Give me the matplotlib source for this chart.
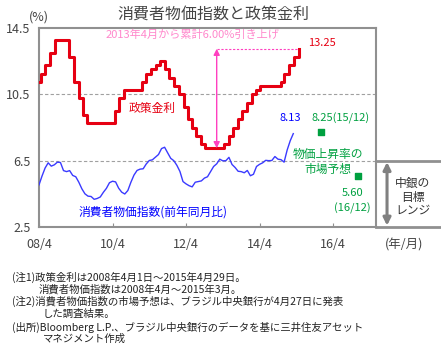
import matplotlib
matplotlib.use('Agg')
import matplotlib.pyplot as plt
import numpy as np
import pandas as pd

plt.rcParams['font.family'] = ['Noto Sans CJK JP', 'DejaVu Sans']

# 政策金利 (変更日, %)
selic_dates = ['2008-04-01', '2008-04-16', '2008-06-04', '2008-07-23', '2008-09-10',
               '2009-01-21', '2009-03-11', '2009-04-29', '2009-06-10', '2009-07-22',
               '2010-04-28', '2010-06-09', '2010-07-21', '2011-01-19', '2011-03-02',
               '2011-04-20', '2011-06-08', '2011-07-20', '2011-08-31', '2011-10-19',
               '2011-11-30', '2012-01-18', '2012-03-07', '2012-04-18', '2012-05-30',
               '2012-07-11', '2012-08-29', '2012-10-10', '2013-04-17', '2013-05-29',
               '2013-07-10', '2013-08-28', '2013-10-09', '2013-11-27', '2014-01-15',
               '2014-02-26', '2014-04-02', '2014-10-29', '2014-12-03', '2015-01-21',
               '2015-03-04', '2015-04-29']
selic = [11.25, 11.75, 12.25, 13.00, 13.75, 12.75, 11.25, 10.25, 9.25, 8.75,
         9.50, 10.25, 10.75, 11.25, 11.75, 12.00, 12.25, 12.50, 12.00, 11.50,
         11.00, 10.50, 9.75, 9.00, 8.50, 8.00, 7.50, 7.25, 7.50, 8.00,
         8.50, 9.00, 9.50, 10.00, 10.50, 10.75, 11.00, 11.25, 11.75, 12.25,
         12.75, 13.25]

# 消費者物価指数 前年同月比 2008/4 - 2015/3
cpi = [5.04, 5.58, 6.06, 6.37, 6.17, 6.25, 6.41, 6.39, 5.90,
       5.84, 5.90, 5.61, 5.53, 5.20, 4.80, 4.50, 4.36, 4.34, 4.17, 4.22, 4.31,
       4.59, 4.83, 5.17, 5.26, 5.22, 4.84, 4.60, 4.49, 4.70, 5.20, 5.63, 5.91,
       5.99, 6.01, 6.30, 6.51, 6.55, 6.71, 6.87, 7.23, 7.31, 6.97, 6.64, 6.50,
       6.22, 5.85, 5.24, 5.10, 4.99, 4.92, 5.20, 5.24, 5.28, 5.45, 5.53, 5.84,
       6.15, 6.31, 6.59, 6.49, 6.50, 6.70, 6.27, 6.09, 5.86, 5.84, 5.77, 5.91,
       5.59, 5.68, 6.15, 6.28, 6.37, 6.52, 6.50, 6.51, 6.75, 6.59, 6.56, 6.41,
       7.14, 7.70, 8.13]

# 市場予想
fc_months = ['2015-12', '2016-12']
fc_values = [8.25, 5.60]

xtick_labels = ['08/4', '10/4', '12/4', '14/4', '16/4']


def to_month(s):
    d = pd.Timestamp(s)
    return (d.year - 2008) * 12 + (d.month - 4) + (d.day - 1) / d.days_in_month


selic_x = [to_month(s) for s in selic_dates]
cpi_x = np.arange(len(cpi))
fc_x = [to_month(s + '-01') for s in fc_months]

fig = plt.figure(figsize=(4.41, 3.52), dpi=100)
ax = fig.add_axes([39 / 441, 1 - 227 / 352, 337 / 441, 199 / 352])

ax.set_xlim(0, 110)
ax.set_ylim(2.5, 14.5)

for v in [10.5, 6.5]:
    ax.axhline(v, color='#a0a0a0', lw=0.8, ls=(0, (3, 2)), zorder=1)

ax.step(selic_x, selic, where='post', color='#e60012', lw=2.2, zorder=3)
ax.plot(cpi_x, cpi, color='#3a3aff', lw=1.0, zorder=3)
ax.scatter(fc_x, fc_values, marker='s', s=22, color='#00a040', zorder=4)

# 累計引き上げ矢印
arrow_x = 58
ax.annotate('', xy=(arrow_x, 13.25), xytext=(arrow_x, 7.25),
            arrowprops=dict(arrowstyle='<|-|>', color='#ff40c0', lw=1.0,
                            mutation_scale=9, shrinkA=0, shrinkB=0))
ax.plot([arrow_x, selic_x[-1]], [13.25, 13.25], color='#ff40c0', lw=0.8,
        ls=(0, (2, 1.5)), zorder=2)

ax.text(50, 14.08, '2013年4月から累計6.00%引き上げ', color='#ff88cc', fontsize=8,
        ha='center', va='center')
ax.text(87.8, 13.6, '13.25', color='#e60012', fontsize=8, ha='left', va='center')
ax.text(37, 9.65, '政策金利', color='#e60012', fontsize=8.5, ha='center', va='center')
ax.text(82.1, 9.05, '8.13', color='#0000ff', fontsize=8, ha='center', va='center')
ax.text(98.3, 9.05, '8.25(15/12)', color='#00a040', fontsize=8, ha='center', va='center')
ax.text(94.4, 6.86, '物価上昇率の', color='#00a040', fontsize=8.5, ha='center', va='center')
ax.text(94.4, 5.95, '市場予想', color='#00a040', fontsize=8.5, ha='center', va='center')
ax.text(102.4, 4.56, '5.60', color='#00a040', fontsize=8, ha='center', va='center')
ax.text(102.2, 3.65, '(16/12)', color='#00a040', fontsize=8, ha='center', va='center')
ax.text(37.2, 3.41, '消費者物価指数(前年同月比)', color='#0000ff', fontsize=8.5,
        ha='center', va='center')

# 目標レンジ
for v in [6.5, 2.5]:
    ax.plot([110, 132], [v, v], color='#909090', lw=2, clip_on=False, zorder=2)
ax.annotate('', xy=(113.6, 6.5), xytext=(113.6, 2.5), annotation_clip=False,
            arrowprops=dict(arrowstyle='<|-|>', color='#808080', lw=2.2,
                            mutation_scale=11, shrinkA=1, shrinkB=1))
fig.text(413 / 441, 1 - 183 / 352, '中銀の', fontsize=8.5, color='#333333',
         ha='center', va='center')
fig.text(413 / 441, 1 - 197 / 352, '目標', fontsize=8.5, color='#333333',
         ha='center', va='center')
fig.text(413 / 441, 1 - 210 / 352, 'レンジ', fontsize=8.5, color='#333333',
         ha='center', va='center')

for sp in ax.spines.values():
    sp.set_color('#909090')
    sp.set_linewidth(1.5)

ax.set_xticks([0, 24, 48, 72, 96])
ax.set_xticklabels(xtick_labels)
ax.set_yticks([14.5, 10.5, 6.5, 2.5])
ax.set_yticklabels(['14.5', '10.5', '6.5', '2.5'])
ax.tick_params(axis='x', direction='in', length=3, color='#909090',
               labelsize=9, labelcolor='#444444', pad=8)
ax.tick_params(axis='y', length=0, labelsize=9, labelcolor='#444444', pad=6)

fig.text(213 / 441, 1 - 14 / 352, '消費者物価指数と政策金利', fontsize=11.5,
         color='#444444', ha='center', va='center')
fig.text(39 / 441, 1 - 17 / 352, '(%)', fontsize=9, color='#444444',
         ha='center', va='center')
fig.text(404 / 441, 1 - 245 / 352, '(年/月)', fontsize=9, color='#444444',
         ha='center', va='center')

notes = [
    (12, 277, '(注1)政策金利は2008年4月1日～2015年4月29日。'),
    (39, 289, '消費者物価指数は2008年4月～2015年3月。'),
    (12, 301, '(注2)消費者物価指数の市場予想は、ブラジル中央銀行が4月27日に発表'),
    (43, 314, 'した調査結果。'),
    (12, 327, '(出所)Bloomberg L.P.、ブラジル中央銀行のデータを基に三井住友アセット'),
    (43, 339, 'マネジメント作成'),
]
for x, y, s in notes:
    fig.text(x / 441, 1 - y / 352, s, fontsize=7.5, color='#222222',
             ha='left', va='center')

fig.savefig('out.png', dpi=100)
